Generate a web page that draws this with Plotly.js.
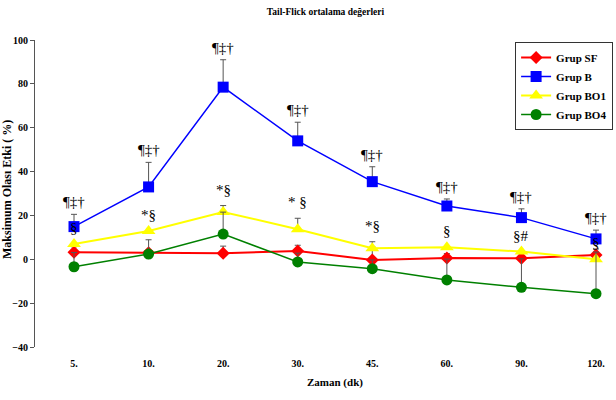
<!DOCTYPE html>
<html>
<head>
<meta charset="utf-8">
<script src="https://cdn.plot.ly/plotly-3.0.1.min.js"></script>
<style>html,body{margin:0;padding:0;background:#fff;}#chart{width:616px;height:400px;}</style>
</head>
<body>
<div id="chart"></div>
<script>
// Categories (time points)
const categories = ["5.", "10.", "20.", "30.", "45.", "60.", "90.", "120."];

// Series means (Maksimum Olası Etki %)
const grupSF  = [3.2, 3.0, 2.7, 3.8, -0.3, 0.6, 0.5, 2.0];
const grupB   = [14.9, 33.0, 78.5, 54.0, 35.4, 24.3, 19.0, 9.3];
const grupBO1 = [7.0, 12.9, 21.6, 13.7, 5.0, 5.5, 3.5, 0.0];
const grupBO4 = [-3.4, 2.4, 11.5, -1.2, -4.3, -9.4, -12.8, -15.7];

// Upper error bars
const errSF  = [2.5, 0, 3.3, 2.6, 6.0, 2.0, 2.0, 2.7];
const errB   = [5.6, 11.2, 12.5, 8.5, 6.8, 3.2, 4.0, 4.0];
const errBO1 = [0, 0, 2.9, 5.0, 3.0, 0, 0, 0];
const errBO4 = [6.5, 6.5, 10.0, 4.0, 4.0, 9.5, 13.0, 19.0];

// Significance labels
const labelsB   = ["¶‡†", "¶‡†", "¶‡†", "¶‡†", "¶‡†", "¶‡†", "¶‡†", "¶‡†"];
const labelsBO1 = ["§", "*§", "*§", "* §", "*§", "§", "§#", "§"];

const serif = "Liberation Serif, Times New Roman, serif";
const errStyle = (arr) => ({type: "data", symmetric: false, array: arr, arrayminus: arr.map(() => 0),
  color: "#555", thickness: 1, width: 3});

const traces = [
  {x: categories, y: grupSF, name: "Grup SF", type: "scatter", mode: "lines+markers", legendrank: 1,
   line: {color: "#ff0000", width: 2}, marker: {symbol: "diamond", size: 10, color: "#ff0000"},
   error_y: errStyle(errSF)},
  {x: categories, y: grupBO1, name: "Grup BO1", type: "scatter", mode: "lines+markers", legendrank: 3,
   line: {color: "#ffff00", width: 2}, marker: {symbol: "triangle-up", size: 12, color: "#ffff00"},
   error_y: errStyle(errBO1)},
  {x: categories, y: grupBO4, name: "Grup BO4", type: "scatter", mode: "lines+markers", legendrank: 4,
   line: {color: "#008000", width: 1.5}, marker: {symbol: "circle", size: 11, color: "#008000"},
   error_y: errStyle(errBO4)},
  {x: categories, y: grupB, name: "Grup B", type: "scatter", mode: "lines+markers", legendrank: 2,
   line: {color: "#0000ff", width: 1.5}, marker: {symbol: "square", size: 11, color: "#0000ff"},
   error_y: errStyle(errB)}
];

const annotations = [];
categories.forEach((c, i) => {
  annotations.push({x: i, y: grupB[i] + errB[i], xref: "x", yref: "y", text: labelsB[i],
    showarrow: false, yanchor: "bottom", yshift: 2, font: {family: serif, size: 15, color: "#000"}});
  annotations.push({x: i, y: grupBO1[i] + errBO1[i], xref: "x", yref: "y", text: labelsBO1[i],
    showarrow: false, yanchor: "bottom", yshift: 6, font: {family: serif, size: 15, color: "#000"}});
});
annotations.push({xref: "paper", yref: "paper", x: (335 - 35) / 581, y: -0.115, yanchor: "middle",
  text: "<b>Zaman (dk)</b>", showarrow: false, font: {family: serif, size: 11, color: "#000"}});
annotations.push({xref: "paper", yref: "paper", x: (7 - 35) / 581, y: (347 - 190) / 307, xanchor: "center", yanchor: "middle",
  textangle: -90, text: "<b>Maksimum Olası Etki ( %)</b>", showarrow: false,
  font: {family: serif, size: 12, color: "#000"}});

const layout = {
  width: 616, height: 400,
  margin: {l: 35, r: 0, t: 40, b: 53},
  paper_bgcolor: "#fff", plot_bgcolor: "#fff",
  font: {family: serif, color: "#000"},
  title: {text: "<b>Tail-Flick ortalama değerleri</b>", x: 0.5, xref: "paper", y: 0.97, yanchor: "middle",
    font: {family: serif, size: 9.5, color: "#000"}},
  xaxis: {type: "category", range: [-0.523, 7.268], showgrid: false, zeroline: false, showline: false,
    ticks: "outside", ticklen: 7, tickcolor: "rgba(0,0,0,0)",
    tickfont: {family: serif, size: 10, color: "#000", weight: "bold"}},
  yaxis: {range: [-40, 100], dtick: 20, showgrid: false, zeroline: false, showline: true,
    linecolor: "#555", linewidth: 1, ticks: "outside", ticklen: 4, tickcolor: "#555",
    tickfont: {family: serif, size: 10, color: "#000", weight: "bold"}},
  showlegend: true,
  legend: {x: 0.995, y: 0.9935, xanchor: "right", yanchor: "top", bgcolor: "#fff",
    bordercolor: "#333", borderwidth: 1, tracegroupgap: 0, itemwidth: 30,
    font: {family: serif, size: 11, color: "#000", weight: "bold"}},
  annotations: annotations
};

Plotly.newPlot("chart", traces, layout, {displayModeBar: false, staticPlot: true});
</script>
</body>
</html>
